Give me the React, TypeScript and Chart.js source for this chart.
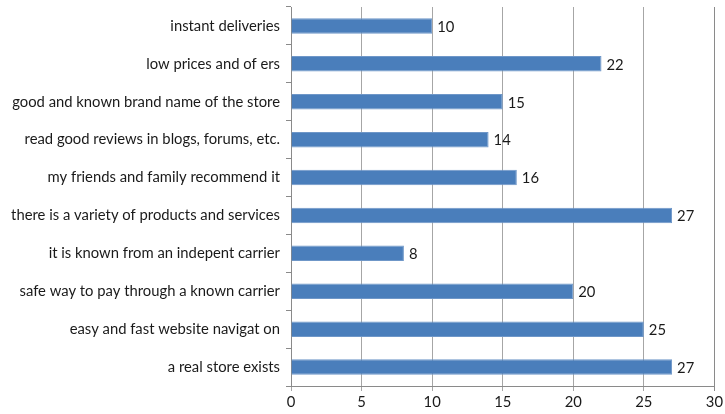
import React, { useEffect, useRef } from "react";
import { Chart, registerables } from "chart.js";

Chart.register(...registerables);

const categories = [
  "instant deliveries",
  "low prices and of ers",
  "good and known brand name of the store",
  "read good reviews in blogs, forums, etc.",
  "my friends and family recommend it",
  "there is a variety of products and services",
  "it is known from an indepent carrier",
  "safe way to pay through a known carrier",
  "easy and fast website navigat on",
  "a real store exists",
];
const values = [10, 22, 15, 14, 16, 27, 8, 20, 25, 27];
const xTicks = [0, 5, 10, 15, 20, 25, 30];

const FONT = "Lato, 'Open Sans', sans-serif";
const FS = 14.8;

const valueLabels = {
  id: "valueLabels",
  afterDatasetsDraw(chart: any) {
    const ctx = chart.ctx;
    const meta = chart.getDatasetMeta(0);
    ctx.save();
    ctx.font = `${FS}px ${FONT}`;
    ctx.fillStyle = "#1a1a1a";
    ctx.textAlign = "left";
    ctx.textBaseline = "middle";
    meta.data.forEach((bar: any, i: number) => {
      ctx.fillText(String(values[i]), bar.x + 5, bar.y + 1);
    });
    ctx.restore();
  },
};

export default function App() {
  const ref = useRef<HTMLCanvasElement>(null);
  useEffect(() => {
    document.body.style.margin = "0";
    const chart = new Chart(ref.current!, {
      type: "bar",
      data: {
        labels: categories,
        datasets: [
          {
            data: values,
            backgroundColor: "#4a7ebb",
            borderColor: "#6f97c8",
            borderWidth: 1,
            categoryPercentage: 1,
            barPercentage: 0.41,
          },
        ],
      },
      options: {
        indexAxis: "y",
        animation: false,
        responsive: false,
        maintainAspectRatio: false,
        layout: { padding: { top: 7, right: 9, left: 0, bottom: 0 } },
        plugins: { legend: { display: false }, tooltip: { enabled: false } },
        scales: {
          x: {
            min: 0,
            max: 30,
            afterBuildTicks: (scale: any) => {
              scale.ticks = xTicks.map((v) => ({ value: v }));
            },
            ticks: {
              font: { family: FONT, size: FS },
              color: "#1a1a1a",
              padding: 2,
              maxRotation: 0,
            },
            grid: {
              color: (c: any) => (c.tick && c.tick.value === 30 ? "#8a8a8a" : "#a6a6a6"),
              lineWidth: 1,
              tickLength: 5,
              drawTicks: true,
            },
            border: { display: true, color: "#8a8a8a" },
            afterFit: (scale: any) => {
              scale.height = 28;
            },
          },
          y: {
            offset: true,
            ticks: {
              font: { family: FONT, size: FS },
              color: "#1a1a1a",
              padding: 6,
              autoSkip: false,
            },
            grid: {
              offset: true,
              drawOnChartArea: false,
              drawTicks: true,
              tickLength: 5,
              color: "#8a8a8a",
            },
            border: { display: true, color: "#8a8a8a" },
            afterFit: (scale: any) => {
              scale.width = 291;
              scale.paddingTop = 0;
              scale.paddingBottom = 0;
            },
          },
        },
      },
      plugins: [valueLabels],
    });
    return () => chart.destroy();
  }, []);
  return (
    <div style={{ width: 725, height: 414 }}>
      <canvas ref={ref} width={725} height={414} />
    </div>
  );
}
